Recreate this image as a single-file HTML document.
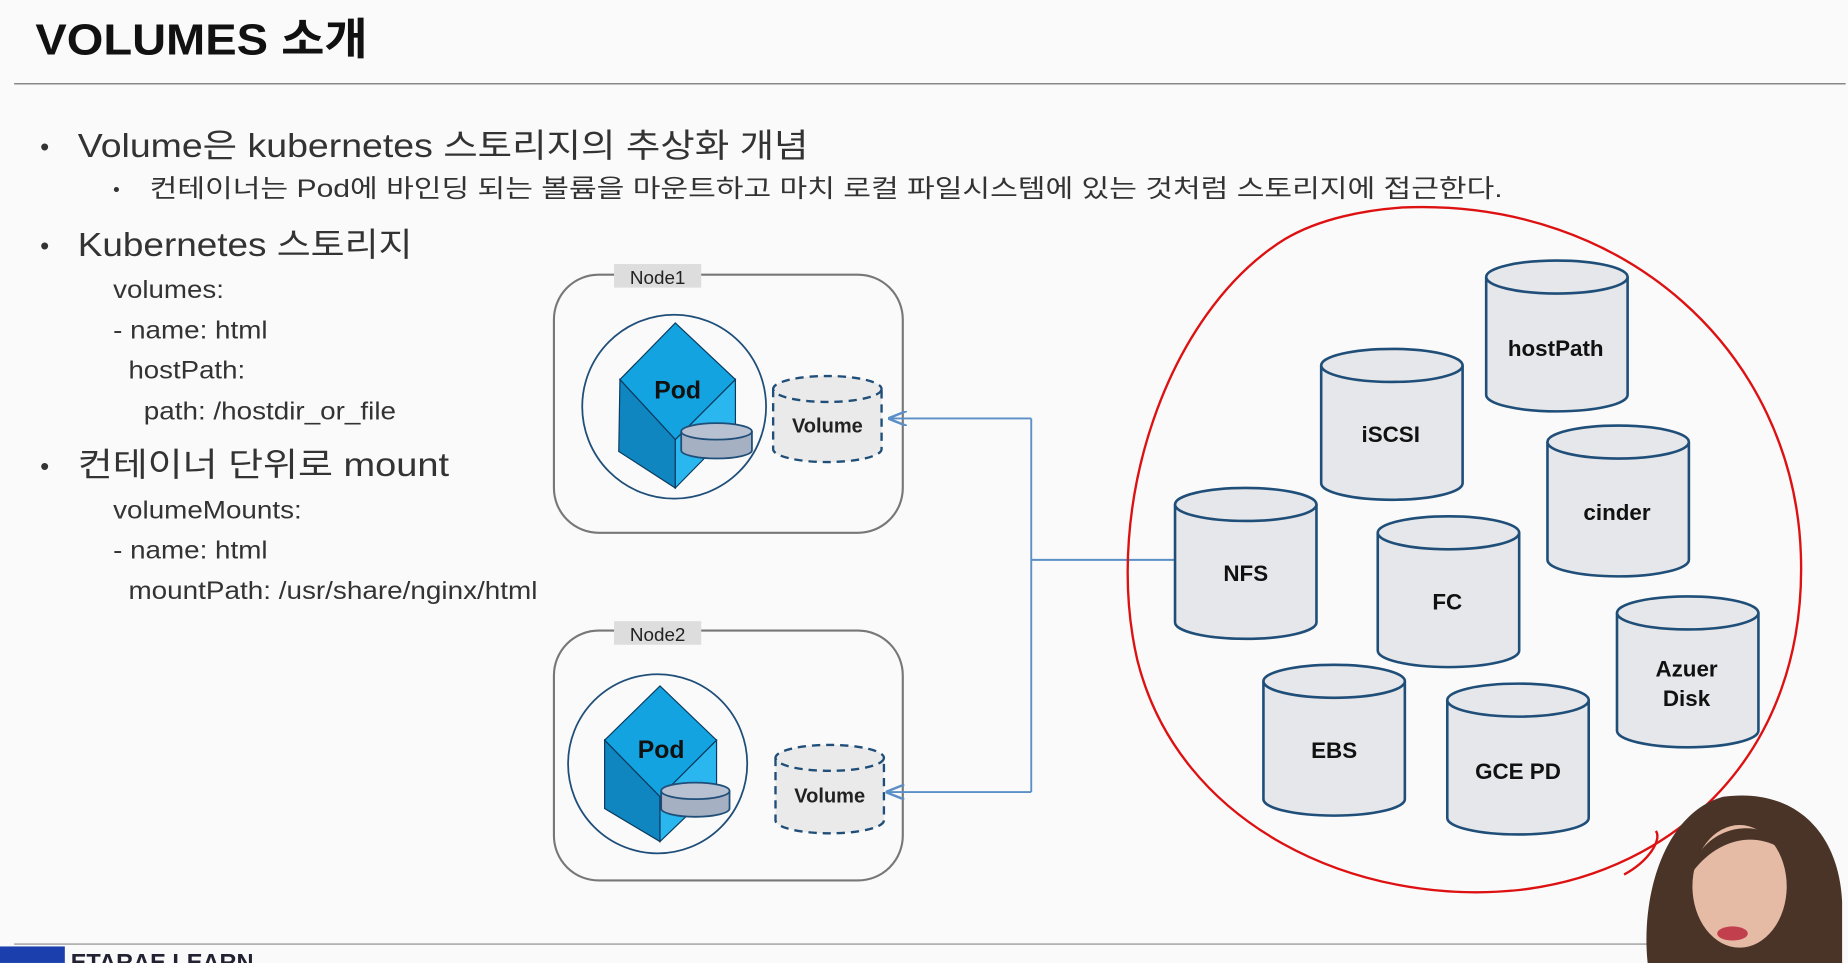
<!DOCTYPE html>
<html><head><meta charset="utf-8"><style>
html,body{margin:0;padding:0;background:#fafafa;}
svg{display:block}
text{font-family:"Liberation Sans","Noto Sans CJK KR",sans-serif;}
</style></head><body>
<svg width="1848" height="963" viewBox="0 0 1568 817" xmlns="http://www.w3.org/2000/svg">
<defs>
<marker id="ar" markerWidth="10" markerHeight="8" refX="9" refY="4" orient="auto"><path d="M0,0 L10,4 L0,8" fill="none" stroke="#5b8fc7" stroke-width="1.3"/></marker>
<g id="cyl">
<path d="M-60,0 L-60,100 A60,14 0 0 0 60,100 L60,0" fill="#e6e7ea" stroke="#1f4e79" stroke-width="2.2"/>
<ellipse cx="0" cy="0" rx="60" ry="14" fill="#e6e7ea" stroke="#1f4e79" stroke-width="2.2"/>
</g>
</defs>
<rect width="1568" height="817" fill="#fafafa"/>
<text x="30" y="46" font-size="37" font-weight="bold" fill="#111" textLength="282" lengthAdjust="spacingAndGlyphs">VOLUMES 소개</text>
<line x1="12" y1="71" x2="1566" y2="71" stroke="#888" stroke-width="1.2"/>
<g fill="#333">
<text x="34" y="132" font-size="22">•</text>
<text x="66" y="133" font-size="28" textLength="620" lengthAdjust="spacingAndGlyphs">Volume은 kubernetes 스토리지의 추상화 개념</text>
<text x="96" y="166" font-size="16">•</text>
<text x="127" y="167" font-size="21" textLength="1148" lengthAdjust="spacingAndGlyphs">컨테이너는 Pod에 바인딩 되는 볼륨을 마운트하고 마치 로컬 파일시스템에 있는 것처럼 스토리지에 접근한다.</text>
<text x="34" y="216" font-size="22">•</text>
<text x="66" y="217" font-size="28" textLength="284" lengthAdjust="spacingAndGlyphs">Kubernetes 스토리지</text>
<text x="96" y="253" font-size="21" textLength="94" lengthAdjust="spacingAndGlyphs">volumes:</text>
<text x="96" y="287" font-size="21" textLength="131" lengthAdjust="spacingAndGlyphs">- name: html</text>
<text x="109" y="321" font-size="21" textLength="99" lengthAdjust="spacingAndGlyphs">hostPath:</text>
<text x="122" y="356" font-size="21" textLength="214" lengthAdjust="spacingAndGlyphs">path: /hostdir_or_file</text>
<text x="34" y="403" font-size="22">•</text>
<text x="66" y="404" font-size="28" textLength="315" lengthAdjust="spacingAndGlyphs">컨테이너 단위로 mount</text>
<text x="96" y="440" font-size="21" textLength="160" lengthAdjust="spacingAndGlyphs">volumeMounts:</text>
<text x="96" y="474" font-size="21" textLength="131" lengthAdjust="spacingAndGlyphs">- name: html</text>
<text x="109" y="508" font-size="21" textLength="347" lengthAdjust="spacingAndGlyphs">mountPath: /usr/share/nginx/html</text>
</g>
<g>
<rect x="470" y="233" width="296" height="219" rx="38" fill="#fafafa" stroke="#777" stroke-width="1.8"/>
<rect x="521" y="224" width="74" height="20" fill="#ddd"/>
<text x="558" y="241" font-size="16" text-anchor="middle" fill="#222">Node1</text>
<circle cx="572" cy="345" r="78" fill="#fafafa" stroke="#1f4e79" stroke-width="1.5"/>
<polygon points="526,322 573,274 624,322 573,373" fill="#12a3e0" stroke="#0b3a5e"/>
<polygon points="526,322 573,373 573,414 525,383" fill="#0f86c0" stroke="#0b3a5e"/>
<polygon points="573,373 624,322 624,362 573,414" fill="#2ab6ee" stroke="#0b3a5e"/>
<text x="575" y="338" font-size="21" font-weight="bold" text-anchor="middle" fill="#111">Pod</text>
<path d="M578,366 L578,382 A30,7 0 0 0 638,382 L638,366" fill="#a6b0c3" stroke="#1f4e79" stroke-width="1.5"/>
<ellipse cx="608" cy="366" rx="30" ry="7" fill="#b8c1d2" stroke="#1f4e79" stroke-width="1.5"/>
<path d="M656,330 L656,381 A46,11 0 0 0 748,381 L748,330" fill="#eaeaea" stroke="#1f4e79" stroke-width="2" stroke-dasharray="7,5"/>
<ellipse cx="702" cy="330" rx="46" ry="11" fill="#eaeaea" stroke="#1f4e79" stroke-width="2" stroke-dasharray="7,5"/>
<text x="702" y="367" font-size="17" font-weight="bold" text-anchor="middle" fill="#222">Volume</text>

<rect x="470" y="535" width="296" height="212" rx="38" fill="#fafafa" stroke="#777" stroke-width="1.8"/>
<rect x="521" y="527" width="74" height="20" fill="#ddd"/>
<text x="558" y="544" font-size="16" text-anchor="middle" fill="#222">Node2</text>
<circle cx="558" cy="648" r="76" fill="#fafafa" stroke="#1f4e79" stroke-width="1.5"/>
<polygon points="513,628 560,582 608,628 560,676" fill="#12a3e0" stroke="#0b3a5e"/>
<polygon points="513,628 560,676 560,714 513,686" fill="#0f86c0" stroke="#0b3a5e"/>
<polygon points="560,676 608,628 608,668 560,714" fill="#2ab6ee" stroke="#0b3a5e"/>
<text x="561" y="643" font-size="21" font-weight="bold" text-anchor="middle" fill="#111">Pod</text>
<path d="M561,671 L561,686 A29,7 0 0 0 619,686 L619,671" fill="#a6b0c3" stroke="#1f4e79" stroke-width="1.5"/>
<ellipse cx="590" cy="671" rx="29" ry="7" fill="#b8c1d2" stroke="#1f4e79" stroke-width="1.5"/>
<path d="M658,643 L658,696 A46,11 0 0 0 750,696 L750,643" fill="#eaeaea" stroke="#1f4e79" stroke-width="2" stroke-dasharray="7,5"/>
<ellipse cx="704" cy="643" rx="46" ry="11" fill="#eaeaea" stroke="#1f4e79" stroke-width="2" stroke-dasharray="7,5"/>
<text x="704" y="681" font-size="17" font-weight="bold" text-anchor="middle" fill="#222">Volume</text>
</g>
<g stroke="#5b8fc7" stroke-width="1.6" fill="none">
<line x1="997" y1="475" x2="875" y2="475"/>
<line x1="875" y1="355" x2="875" y2="672"/>
<line x1="875" y1="355" x2="755" y2="355" marker-end="url(#ar)"/>
<line x1="875" y1="672" x2="753" y2="672" marker-end="url(#ar)"/>
</g>
<path d="M1190,176 C1380,168 1522,300 1528,470 C1534,640 1420,740 1290,755 C1150,770 1000,700 965,560 C935,430 990,265 1090,203 C1120,185 1160,178 1190,176 Z" fill="none" stroke="#d11" stroke-width="2"/>
<path d="M1378,742 C1400,730 1410,712 1405,705" fill="none" stroke="#d11" stroke-width="2"/>
<g font-size="19" font-weight="bold" text-anchor="middle" fill="#111">
<use href="#cyl" x="1321" y="235"/><text x="1320" y="302">hostPath</text>
<use href="#cyl" x="1181" y="310"/><text x="1180" y="375">iSCSI</text>
<use href="#cyl" x="1373" y="375"/><text x="1372" y="441">cinder</text>
<use href="#cyl" x="1057" y="428"/><text x="1057" y="493">NFS</text>
<use href="#cyl" x="1229" y="452"/><text x="1228" y="517">FC</text>
<use href="#cyl" x="1432" y="520"/><text x="1431" y="574">Azuer</text><text x="1431" y="599">Disk</text>
<use href="#cyl" x="1132" y="578"/><text x="1132" y="643">EBS</text>
<use href="#cyl" x="1288" y="594"/><text x="1288" y="661">GCE  PD</text>
</g>
<line x1="12" y1="801" x2="1400" y2="801" stroke="#888" stroke-width="1"/>
<rect x="0" y="803" width="55" height="14" fill="#1c3fae"/>
<text x="60" y="823" font-size="20" font-weight="bold" fill="#223">ETARAE LEARN</text>
<path d="M1398,817 C1392,760 1412,690 1462,676 C1522,668 1560,705 1563,765 L1563,817 Z" fill="#4a3428"/>
<ellipse cx="1476" cy="752" rx="40" ry="52" fill="#e6bba6"/>
<path d="M1436,740 C1442,700 1500,688 1518,725 C1495,705 1460,708 1436,740 Z" fill="#4a3428"/>
<ellipse cx="1470" cy="792" rx="13" ry="6" fill="#c2404e"/>
</svg>
</body></html>
